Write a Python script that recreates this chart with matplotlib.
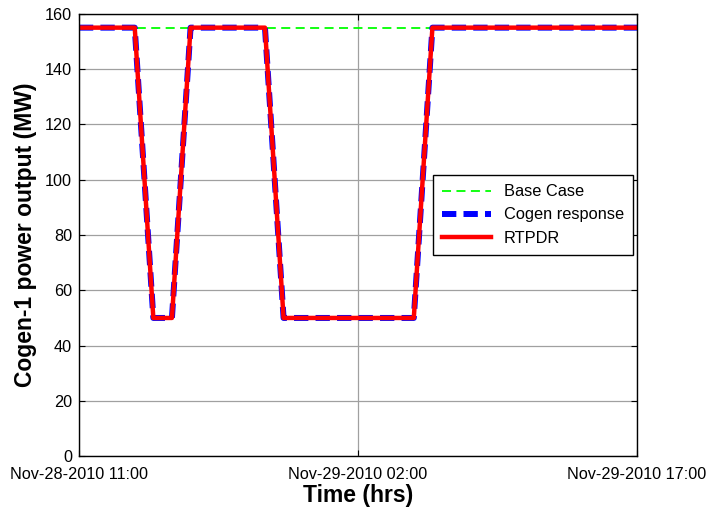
import matplotlib
matplotlib.use('Agg')
import matplotlib.pyplot as plt
import pandas as pd

plt.rcParams['font.family'] = ['Liberation Sans', 'DejaVu Sans']

# step times and cogen output (MW)
times = ['2010-11-28 11:00', '2010-11-28 14:00', '2010-11-28 15:00',
         '2010-11-28 16:00', '2010-11-28 17:00', '2010-11-28 21:00',
         '2010-11-28 22:00', '2010-11-29 05:00', '2010-11-29 06:00',
         '2010-11-29 17:00']
cogen = [155, 155, 50, 50, 155, 155, 50, 50, 155, 155]
rtpdr = [155, 155, 50, 50, 155, 155, 50, 50, 155, 155]
base_times = ['2010-11-28 11:00', '2010-11-29 17:00']
base_case = [155, 155]

tick_times = ['2010-11-28 11:00', '2010-11-29 02:00', '2010-11-29 17:00']
tick_labels = ['Nov-28-2010 11:00', 'Nov-29-2010 02:00', 'Nov-29-2010 17:00']

t = pd.to_datetime(times)
tb = pd.to_datetime(base_times)
tt = pd.to_datetime(tick_times)

fig = plt.figure(figsize=(7.11, 5.12), dpi=100)
ax = fig.add_axes([0.111, 0.109, 0.785, 0.864])

ax.plot(tb, base_case, color='#00ff00', lw=1.3, dashes=(5, 3), label='Base Case')
ax.plot(t, cogen, color='#0000ff', lw=4.3, dashes=(2.4, 1.2), label='Cogen response')
ax.plot(t, rtpdr, color='#ff0000', lw=3.2, label='RTPDR')

ax.set_xlim(tt[0], tt[-1])
ax.set_ylim(0, 160)
ax.set_xticks(tt)
ax.set_xticklabels(tick_labels)
ax.set_yticks(range(0, 161, 20))
ax.tick_params(direction='in', length=4, labelsize=11.7, top=True, right=True,
               color='black', width=0.8)
ax.tick_params(axis='x', pad=8)
ax.tick_params(axis='y', pad=5)
ax.grid(True, color='#a0a0a0', lw=0.9)
for s in ax.spines.values():
    s.set_linewidth(1.0)

ax.set_xlabel('Time (hrs)', fontsize=16.5, fontweight='bold', labelpad=1.5)
ax.set_ylabel('Cogen-1 power output (MW)', fontsize=16.5, fontweight='bold', labelpad=6)

leg = ax.legend(loc='upper right', bbox_to_anchor=(0.993, 0.635), fontsize=11.8,
                fancybox=False, framealpha=1, edgecolor='black',
                handlelength=3.0, borderpad=0.55, labelspacing=0.5, borderaxespad=0)
leg.get_frame().set_linewidth(1.0)

plt.savefig('out.png', dpi=100)
